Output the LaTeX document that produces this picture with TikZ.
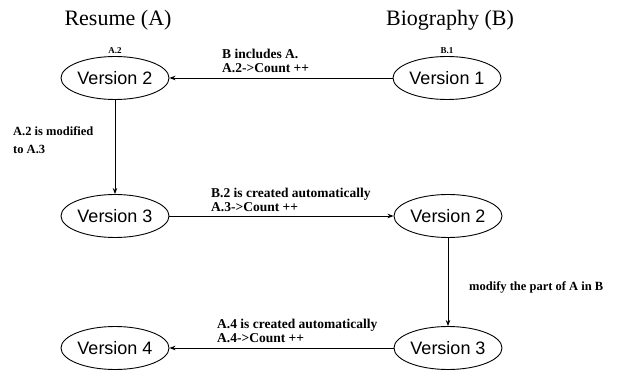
\documentclass[tikz,border=0pt]{standalone}
\usepackage{fontspec}
\setmainfont{Liberation Serif}
\setsansfont{Liberation Sans}
\usetikzlibrary{shapes.geometric, arrows.meta, positioning}

\begin{document}
\begin{tikzpicture}[x=1pt, y=-1pt,
  ver/.style={ellipse, draw, line width=0.9pt, minimum width=108pt, minimum height=43pt, inner sep=0pt, font=\sffamily\fontsize{18}{18}\selectfont},
  ttl/.style={font=\fontsize{22}{22}\selectfont},
  tag/.style={font=\bfseries\fontsize{9}{9}\selectfont, inner sep=1pt},
  lbl/.style={font=\bfseries\fontsize{13.5}{14}\selectfont, align=left, inner sep=0pt},
  note/.style={font=\bfseries\fontsize{12.5}{13}\selectfont, align=left, inner sep=0pt},
  arr/.style={-{Stealth[length=6pt, width=4.5pt]}, line width=0.8pt}
]
\useasboundingbox (0,0) rectangle (626,371);
% Titles
\node[ttl] (tA) at (118,20) {Resume (A)};
\node[ttl] (tB) at (450,20) {Biography (B)};
% Versions
\node[ver] (a2) at (115,78) {Version 2};
\node[ver] (b1) at (447,78) {Version 1};
\node[ver] (a3) at (115,216) {Version 3};
\node[ver] (b2) at (448,216) {Version 2};
\node[ver] (b3) at (448,348) {Version 3};
\node[ver] (a4) at (115,348) {Version 4};
\node[tag, above=1pt of a2] (a2t) {A.2};
\node[tag, above=1pt of b1] (b1t) {B.1};
\draw[arr] (b1) -- (a2);
\draw[arr] (a2) -- (a3);
\draw[arr] (a3) -- (b2);
\draw[arr] (b2) -- (b3);
\draw[arr] (b3) -- (a4);
% Labels
\node[lbl, anchor=south west] (l1) at (222,73) {B includes A.\\A.2->Count ++};
\node[note, anchor=north west] (l2) at (13,127) {A.2 is modified\\[5pt]to A.3};
\node[lbl, anchor=south west] (l3) at (211,212) {B.2 is created automatically\\A.3->Count ++};
\node[note, anchor=west] (l4) at (469,287) {modify the part of A in B};
\node[lbl, anchor=south west] (l5) at (217,343) {A.4 is created automatically\\A.4->Count ++};
\end{tikzpicture}
\end{document}
